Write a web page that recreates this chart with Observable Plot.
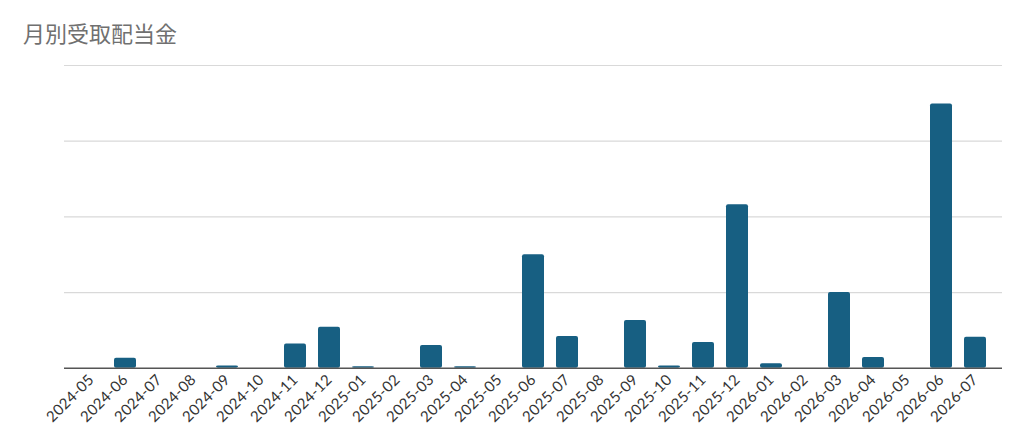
<!DOCTYPE html>
<html><head><meta charset="utf-8">
<script src="https://cdn.jsdelivr.net/npm/d3@7"></script>
<script src="https://cdn.jsdelivr.net/npm/@observablehq/plot@0.6"></script>
<style>
html,body{margin:0;padding:0;background:#fff;}
#title{height:50px;box-sizing:border-box;padding:19px 0 0 23px;font-family:"Noto Sans CJK JP","Noto Sans",sans-serif;font-size:22px;color:#707070;line-height:26px;}
</style></head>
<body>
<div id="title">月別受取配当金</div>
<div id="chart"></div>
<script>
const months = ["2024-05","2024-06","2024-07","2024-08","2024-09","2024-10","2024-11","2024-12",
  "2025-01","2025-02","2025-03","2025-04","2025-05","2025-06","2025-07","2025-08","2025-09","2025-10","2025-11","2025-12",
  "2026-01","2026-02","2026-03","2026-04","2026-05","2026-06","2026-07"];
const dividends = [0,130,0,0,30,0,320,540,
  20,0,300,20,0,1500,420,0,630,30,340,2160,
  60,0,1000,140,0,3490,410];
const yTicks = [0,1000,2000,3000,4000];
const data = months.map((m,i)=>({month:m, value:dividends[i]}));

const chart = Plot.plot({
  width:1024, height:392,
  marginLeft:64, marginRight:22, marginTop:15, marginBottom:74.3,
  style:{fontFamily:"Lato, sans-serif", fontSize:"15px", color:"#333", background:"#fff", letterSpacing:"0.3px"},
  x:{domain:months, padding:0.36, label:null, tickSize:0, tickRotate:-45, tickPadding:9},
  y:{domain:[0,4000], ticks:yTicks, label:null, axis:null},
  marks:[
    Plot.gridY(yTicks.slice(1), {stroke:"#d9d9d9", strokeOpacity:1, strokeWidth:1.2}),
    Plot.barY(data, {x:"month", y:"value", fill:"#175f82", rx:2}),
    Plot.ruleY([0], {stroke:"#555", strokeWidth:1.5})
  ]
});
document.getElementById("chart").appendChild(chart);
</script>
</body></html>
